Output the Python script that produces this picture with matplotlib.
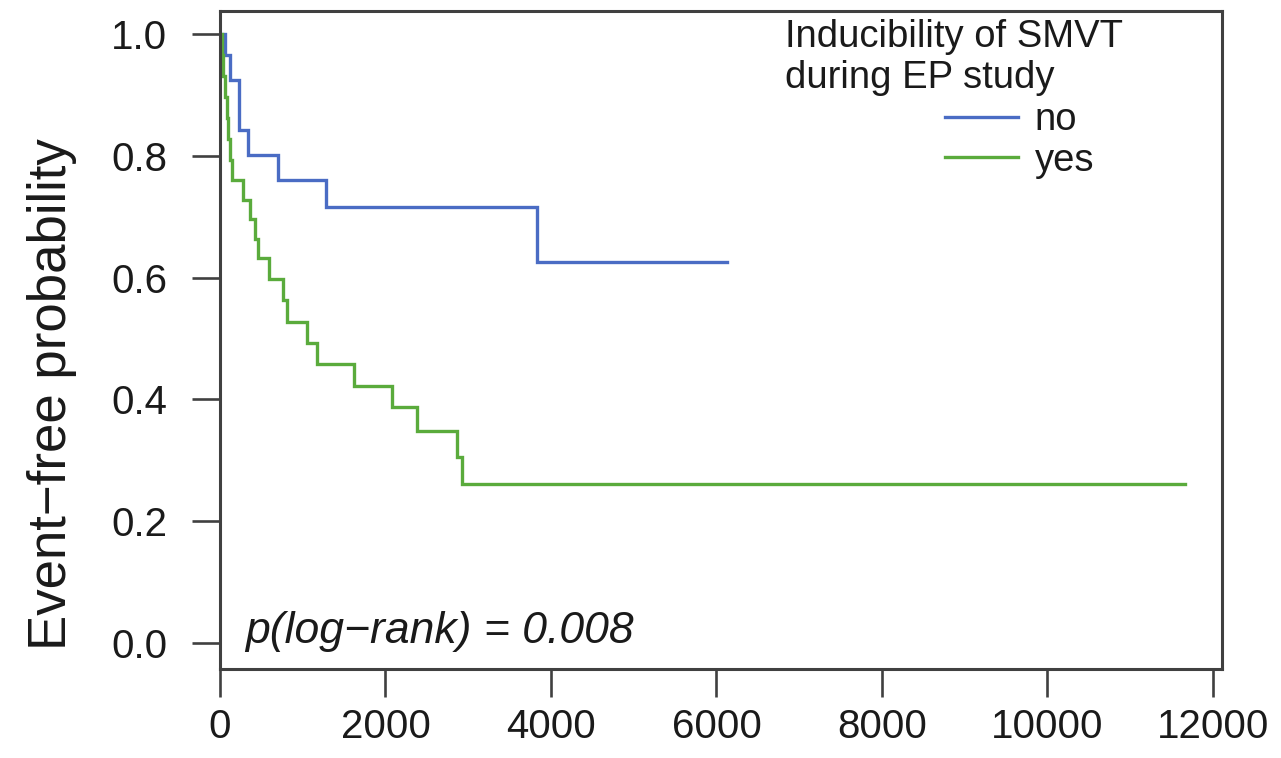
import matplotlib
matplotlib.use("Agg")
import matplotlib.pyplot as plt
from matplotlib.lines import Line2D

plt.rcParams['font.family'] = ['Liberation Sans', 'DejaVu Sans']

# Kaplan-Meier step data (time in days, event-free probability)
no_times = [0, 60, 121, 230, 340, 700, 1280, 3830, 6127]
no_surv = [1.0, 0.966, 0.924, 0.842, 0.801, 0.760, 0.716, 0.626, 0.626]

yes_times = [0, 20, 40, 60, 80, 100, 120, 140, 278, 363, 423, 460, 592, 761, 810,
             1051, 1172, 1619, 2079, 2381, 2864, 2925, 11660]
yes_surv = [1.0, 0.966, 0.931, 0.897, 0.862, 0.828, 0.793, 0.760, 0.727, 0.696, 0.664,
            0.632, 0.598, 0.563, 0.527, 0.493, 0.458, 0.422, 0.388, 0.348, 0.305, 0.261, 0.261]

x_ticks = [0, 2000, 4000, 6000, 8000, 10000, 12000]
y_ticks = [0.0, 0.2, 0.4, 0.6, 0.8, 1.0]
y_ticklabels = ["0.0", "0.2", "0.4", "0.6", "0.8", "1.0"]
group_labels = ["no", "yes"]
legend_title_lines = ["Inducibility of SMVT", "during EP study"]
p_text = "p(log\u2212rank) = 0.008"
y_label = "Event\u2212free probability"

c_no = "#4a6cc4"
c_yes = "#5aab3c"
frame_c = "#404040"
txt_c = "#1a1a1a"

W, H = 1281, 758
fig = plt.figure(figsize=(W / 100, H / 100), dpi=100)
ax = fig.add_axes([220 / W, 1 - 669 / H, (1222 - 220) / W, (669 - 11) / H])

ax.step(no_times, no_surv, where='post', color=c_no, lw=2.4, solid_joinstyle='miter')
ax.step(yes_times, yes_surv, where='post', color=c_yes, lw=2.4, solid_joinstyle='miter')

ax.set_xlim(0, 12109)
ax.set_ylim(-0.043, 1.038)
ax.set_xticks(x_ticks)
ax.set_xticklabels([str(v) for v in x_ticks])
ax.set_yticks(y_ticks)
ax.set_yticklabels(y_ticklabels)

for s in ax.spines.values():
    s.set_color(frame_c)
    s.set_linewidth(2.2)

ax.tick_params(axis='both', direction='out', length=20, width=1.9, color=frame_c,
               labelsize=29, labelcolor=txt_c)
ax.tick_params(axis='y', pad=18)
ax.tick_params(axis='x', pad=8)

ax.set_ylabel(y_label, fontsize=38, color=txt_c)
ax.yaxis.set_label_coords((77 - 220) / 1002, 1 - (394 - 11) / 658)

ax.text(0.025, 0.04, p_text, transform=ax.transAxes, fontsize=32, style='italic',
        color=txt_c, va='baseline', ha='left')

# legend title
ax.text(0.564, 1 - (47 - 11) / 658, legend_title_lines[0], transform=ax.transAxes,
        fontsize=27.5, color=txt_c, va='baseline', ha='left')
ax.text(0.564, 1 - (88 - 11) / 658, legend_title_lines[1], transform=ax.transAxes,
        fontsize=27.5, color=txt_c, va='baseline', ha='left')

handles = [Line2D([], [], color=c_no, lw=2.4), Line2D([], [], color=c_yes, lw=2.4)]
leg = ax.legend(handles, group_labels, loc='upper left',
                bbox_to_anchor=((945 - 220) / 1002, 1 - (102 - 11) / 658),
                frameon=False, fontsize=27.5, handlelength=1.9, handletextpad=0.45,
                labelspacing=0.12, borderpad=0, borderaxespad=0)
for t in leg.get_texts():
    t.set_color(txt_c)

fig.savefig("out.png", dpi=100)
